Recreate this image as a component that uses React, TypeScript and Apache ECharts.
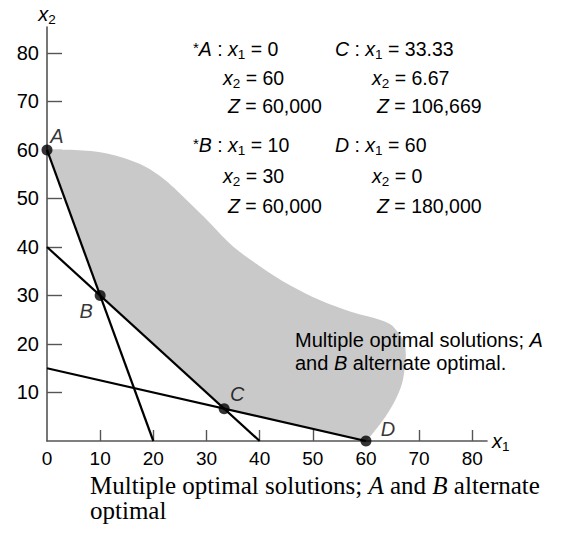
import React, { useEffect, useRef } from 'react';
import * as echarts from 'echarts';

// ---------- data ----------
const xTickValues = [0, 10, 20, 30, 40, 50, 60, 70, 80];
const yTickValues = [10, 20, 30, 40, 50, 60, 70, 80];
const xAxisMax = 82.77;
const yAxisMax = 85.36;

const constraintLine1 = [[0, 60], [20, 0]];
const constraintLine2 = [[0, 40], [40, 0]];
const constraintLine3 = [[0, 15], [60, 0]];

const cornerNames = ['A', 'B', 'C', 'D'];
const cornerPoints = [[0, 60], [10, 30], [33.33, 6.67], [60, 0]];

// outer (hand-drawn) edge of the shaded region, from A round to D
const regionOuterEdge = [
  [0, 60], [5.3, 60], [11.3, 59.3], [17.5, 57.1], [22.2, 53.8], [26.9, 49.0],
  [30.7, 44.9], [35.0, 40.1], [40.1, 36.0], [45.7, 32.1], [51.4, 29.0], [57.0, 26.7],
  [61.7, 25.3], [64.5, 24.1], [66.0, 22.4], [67.2, 20.4], [67.5, 17.7], [67.3, 15.2],
  [66.8, 11.9], [65.5, 8.4], [63.6, 4.9], [61.3, 1.6], [60, 0],
];
// inner edge along constraints: D -> C -> B (then closes to A)
const regionInnerEdge = [[33.33, 6.67], [10, 30]];

const solutionLabels = ['A', 'B', 'C', 'D'];
const solutionStarred = [true, true, false, false];
const solutionX1 = ['0', '10', '33.33', '60'];
const solutionX2 = ['60', '30', '6.67', '0'];
const solutionZ = ['60,000', '60,000', '106,669', '180,000'];

const noteLines = ['Multiple optimal solutions; {i|A}', 'and {i|B} alternate optimal.'];
const captionLines = ['Multiple optimal solutions; {i|A} and {i|B} alternate', 'optimal'];

// ---------- styles ----------
const SANS = '"Liberation Sans", Arial, Helvetica, sans-serif';
const SERIF = '"Liberation Serif", "Times New Roman", Times, serif';
const INK = '#000';
const AXIS = '#555';
const ANNO = 19.5;

function sansRich(size: number) {
  return {
    n: { fontSize: size, fontFamily: SANS, fill: INK, lineHeight: 22 },
    i: { fontSize: size, fontFamily: SANS, fontStyle: 'italic', fill: INK, lineHeight: 22 },
    s: { fontSize: 13.5, fontFamily: SANS, fill: INK, lineHeight: 22, padding: [10, 0, 0, 0] },
    st: { fontSize: 15, fontFamily: SANS, fill: INK, lineHeight: 22, padding: [0, 0, 4, 0] },
  };
}

function richText(x: number, baseline: number, text: string, size: number, rich: any, family: string, k = 0.3465) {
  return {
    type: 'text',
    x,
    y: baseline - k * size,
    z: 100,
    silent: true,
    style: {
      text,
      rich,
      fontSize: size,
      fontFamily: family,
      fill: INK,
      align: 'left',
      verticalAlign: 'middle',
      textAlign: 'left',
      textVerticalAlign: 'middle',
    },
  };
}

const toRich = (t: string) => `{n|${t.replace(/\{i\|([^}]*)\}/g, '}{i|$1}{n|')}}`;

function buildGraphics() {
  const els: any[] = [];
  const rich = sansRich(ANNO);
  const blockX = [[193, 223, 228], [193, 223, 228], [335, 372, 377], [335, 372, 377]];
  const blockY = [[56, 85, 113], [152, 183, 213], [56, 85, 113], [152, 183, 213]];
  solutionLabels.forEach((lab, k) => {
    const l1 = (solutionStarred[k] ? '{st|*}' : '') + `{i|${lab}}{n| : }{i|x}{s|1}{n| = ${solutionX1[k]}}`;
    const l2 = `{i|x}{s|2}{n| = ${solutionX2[k]}}`;
    const l3 = `{i|Z}{n| = ${solutionZ[k]}}`;
    [l1, l2, l3].forEach((t, r) => {
      els.push(richText(blockX[k][r], blockY[k][r], t, ANNO, rich, SANS));
    });
  });
  const noteRich = sansRich(20);
  noteLines.forEach((t, r) => {
    els.push(richText(295, 347 + r * 23, toRich(t), 20, noteRich, SANS));
  });
  const serifRich = {
    n: { fontSize: 25, fontFamily: SERIF, fill: INK, lineHeight: 19 },
    i: { fontSize: 25, fontFamily: SERIF, fontStyle: 'italic', fill: INK, lineHeight: 19 },
  };
  captionLines.forEach((t, r) => {
    els.push(richText(90, 494 + r * 24.5, toRich(t), 25, serifRich, SERIF, 0.3375));
  });
  return els;
}

// Catmull-Rom -> cubic bezier through pixel points
function smoothPath(pts: number[][]) {
  let d = `M${pts[0][0]},${pts[0][1]}`;
  for (let i = 0; i < pts.length - 1; i++) {
    const p0 = pts[Math.max(0, i - 1)];
    const p1 = pts[i];
    const p2 = pts[i + 1];
    const p3 = pts[Math.min(pts.length - 1, i + 2)];
    const c1x = p1[0] + (p2[0] - p0[0]) / 6;
    const c1y = p1[1] + (p2[1] - p0[1]) / 6;
    const c2x = p2[0] - (p3[0] - p1[0]) / 6;
    const c2y = p2[1] - (p3[1] - p1[1]) / 6;
    d += ` C${c1x},${c1y} ${c2x},${c2y} ${p2[0]},${p2[1]}`;
  }
  return d;
}

const lineSeries = (data: number[][]) => ({
  type: 'line',
  data,
  symbol: 'none',
  z: 3,
  silent: true,
  lineStyle: { color: '#000', width: 2.2 },
});

const labelOffsets = [[10, -14], [-14, 16], [13, -15], [22, -12]];

export default function App() {
  const ref = useRef<HTMLDivElement>(null);
  useEffect(() => {
    if (!ref.current) return;
    const chart = echarts.init(ref.current, undefined, { renderer: 'svg' });
    const axisRich = {
      i: { fontSize: 20, fontFamily: SANS, fontStyle: 'italic', color: INK, lineHeight: 22 },
      s: { fontSize: 13.5, fontFamily: SANS, color: INK, lineHeight: 22, padding: [10, 0, 0, 0] },
    };
    chart.setOption({
      animation: false,
      backgroundColor: '#fff',
      grid: { left: 47, right: 90, top: 27, bottom: 100, containLabel: false },
      xAxis: {
        type: 'value',
        min: 0,
        max: xAxisMax,
        interval: 10,
        splitLine: { show: false },
        axisLine: { show: true, lineStyle: { color: AXIS, width: 1.6 } },
        axisTick: { show: true, inside: true, length: 11, customValues: xTickValues.filter((v) => v > 0), lineStyle: { color: AXIS, width: 1.4 } },
        axisLabel: { customValues: xTickValues, margin: 8, fontSize: 19, lineHeight: 18, fontFamily: SANS, color: INK },
        name: '{i|x}{s|1}',
        nameLocation: 'end',
        nameGap: 5,
        nameTextStyle: { rich: axisRich, verticalAlign: 'middle', align: 'left' },
      },
      yAxis: {
        type: 'value',
        min: 0,
        max: yAxisMax,
        interval: 10,
        splitLine: { show: false },
        axisLine: { show: true, lineStyle: { color: AXIS, width: 1.6 } },
        axisTick: { show: true, inside: true, length: 15, customValues: yTickValues, lineStyle: { color: AXIS, width: 1.4 } },
        axisLabel: { customValues: yTickValues, margin: 8, fontSize: 20, lineHeight: 20, fontFamily: SANS, color: INK },
        name: '{i|x}{s|2}',
        nameLocation: 'end',
        nameGap: 2,
        nameTextStyle: { rich: axisRich, align: 'center', verticalAlign: 'bottom' },
      },
      series: [
        {
          type: 'custom',
          coordinateSystem: 'cartesian2d',
          data: [[0, 0]],
          z: 1,
          silent: true,
          clip: false,
          renderItem: (_params: any, api: any) => {
            const outer = regionOuterEdge.map((p) => api.coord(p));
            const inner = regionInnerEdge.map((p) => api.coord(p));
            let d = smoothPath(outer);
            inner.forEach((p: number[]) => {
              d += ` L${p[0]},${p[1]}`;
            });
            d += ' Z';
            return {
              type: 'path',
              shape: { pathData: d },
              style: { fill: '#c9c9c9', stroke: 'none' },
            };
          },
        },
        lineSeries(constraintLine1),
        lineSeries(constraintLine2),
        lineSeries(constraintLine3),
        {
          type: 'scatter',
          z: 4,
          silent: true,
          symbol: 'circle',
          symbolSize: 11,
          itemStyle: { color: '#000' },
          data: cornerNames.map((n, i) => ({
            name: n,
            value: cornerPoints[i],
            label: { offset: labelOffsets[i] },
          })),
          label: {
            show: true,
            formatter: '{b}',
            position: 'inside',
            fontSize: 20,
            fontStyle: 'italic',
            fontFamily: SANS,
            color: INK,
          },
        },
      ],
      graphic: buildGraphics(),
    });
    return () => chart.dispose();
  }, []);
  return <div ref={ref} style={{ position: 'fixed', left: 0, top: 0, width: 577, height: 541 }} />;
}
